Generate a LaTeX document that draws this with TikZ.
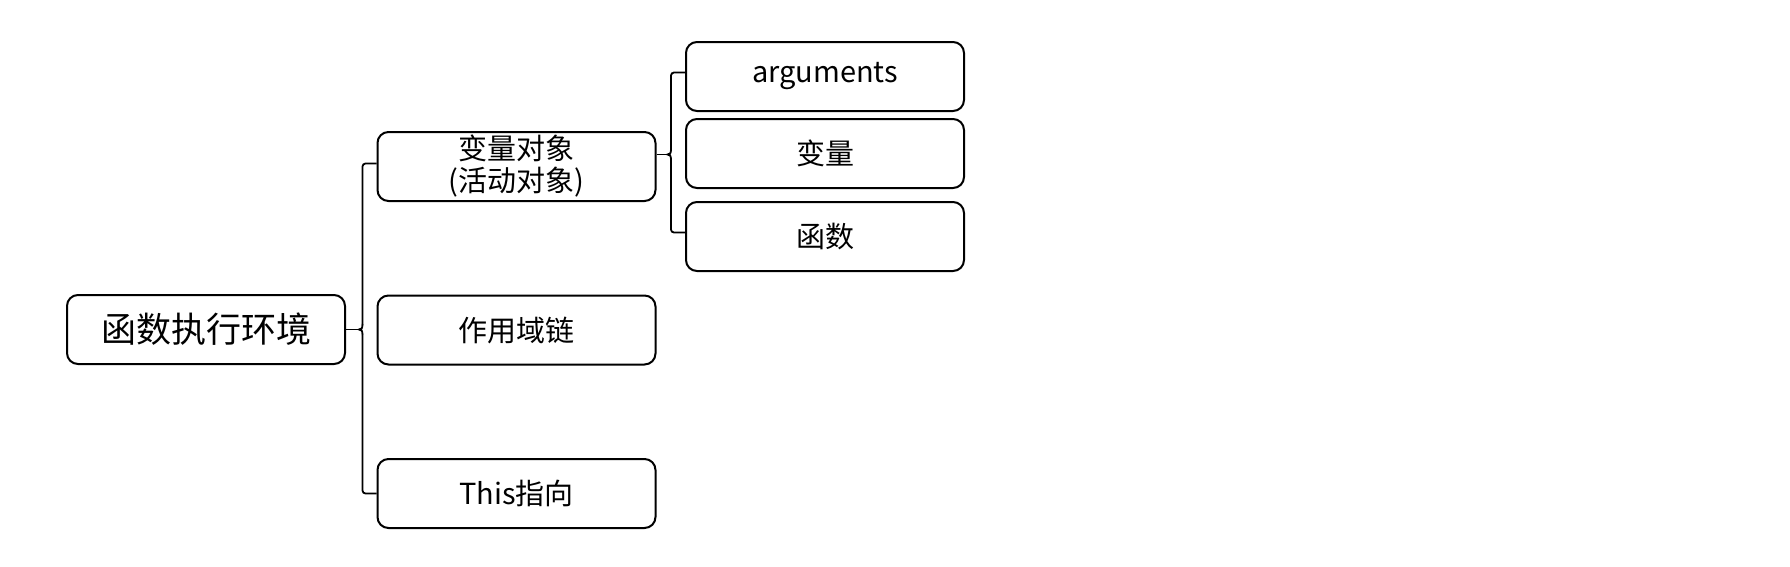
\documentclass[tikz,border=0pt]{standalone}
\usepackage{fontspec}
\setmainfont{Noto Sans CJK SC}
\usetikzlibrary{calc}
\tikzset{
  box/.style={draw=black, line width=2pt, rounded corners=11pt, minimum width=278pt, minimum height=69pt, inner sep=0pt, align=center, font=\fontsize{29}{32}\selectfont},
  rootbox/.style={box, font=\fontsize{35}{40}\selectfont},
  brace/.style={draw=black, line width=1.8pt, rounded corners=3pt}
}
\begin{document}
\begin{tikzpicture}[x=1pt,y=-1pt]
\useasboundingbox (0,0) rectangle (1790,566);
\node[rootbox] (root) at (206,329.5) {函数执行环境};
\node[box] (obj) at (516.5,166.5) {变量对象\\(活动对象)};
\node[box] (scope) at (516.5,330) {作用域链};
\node[box] (this) at (516.5,493.5) {This指向};
\node[box] (arg) at (825,76.5) {arguments};
\node[box] (var) at (825,153.5) {变量};
\node[box] (fn) at (825,236.5) {函数};
% brace from root
\coordinate (b1) at ($(obj.west)+(-14,-3)$);
\coordinate (n1) at (b1 |- root.east);
\draw[brace] ($(obj.west)+(0,-3)$) -- (b1) -- ($(n1)+(0,-5)$);
\draw[brace] ($(n1)+(0,5)$) -- (b1 |- this.west) -- (this.west);
\draw[line width=1.8pt] ($(n1)+(0,-5.5)$) .. controls ($(n1)+(0,-1)$) and ($(n1)+(-1,0)$) .. ($(n1)+(-3.5,0)$) .. controls ($(n1)+(-1,0)$) and ($(n1)+(0,1)$) .. ($(n1)+(0,5.5)$);
\draw[line width=1.8pt] (root.east) -- ($(n1)+(-3.5,0)$);
% brace from obj
\coordinate (b2) at ($(arg.west)+(-14,-4)$);
\coordinate (n2) at ($(b2)!0.5!(b2 |- fn.west)$);
\draw[brace] ($(arg.west)+(0,-4)$) -- (b2) -- ($(n2)+(0,-5)$);
\draw[brace] ($(n2)+(0,5)$) -- ($(b2 |- fn.west)+(0,-4)$) -- ($(fn.west)+(0,-4)$);
\draw[line width=1.8pt] ($(n2)+(0,-5.5)$) .. controls ($(n2)+(0,-1)$) and ($(n2)+(-1,0)$) .. ($(n2)+(-3.5,0)$) .. controls ($(n2)+(-1,0)$) and ($(n2)+(0,1)$) .. ($(n2)+(0,5.5)$);
\draw[line width=1.8pt] (obj.east |- n2) -- ($(n2)+(-3.5,0)$);
\end{tikzpicture}
\end{document}
